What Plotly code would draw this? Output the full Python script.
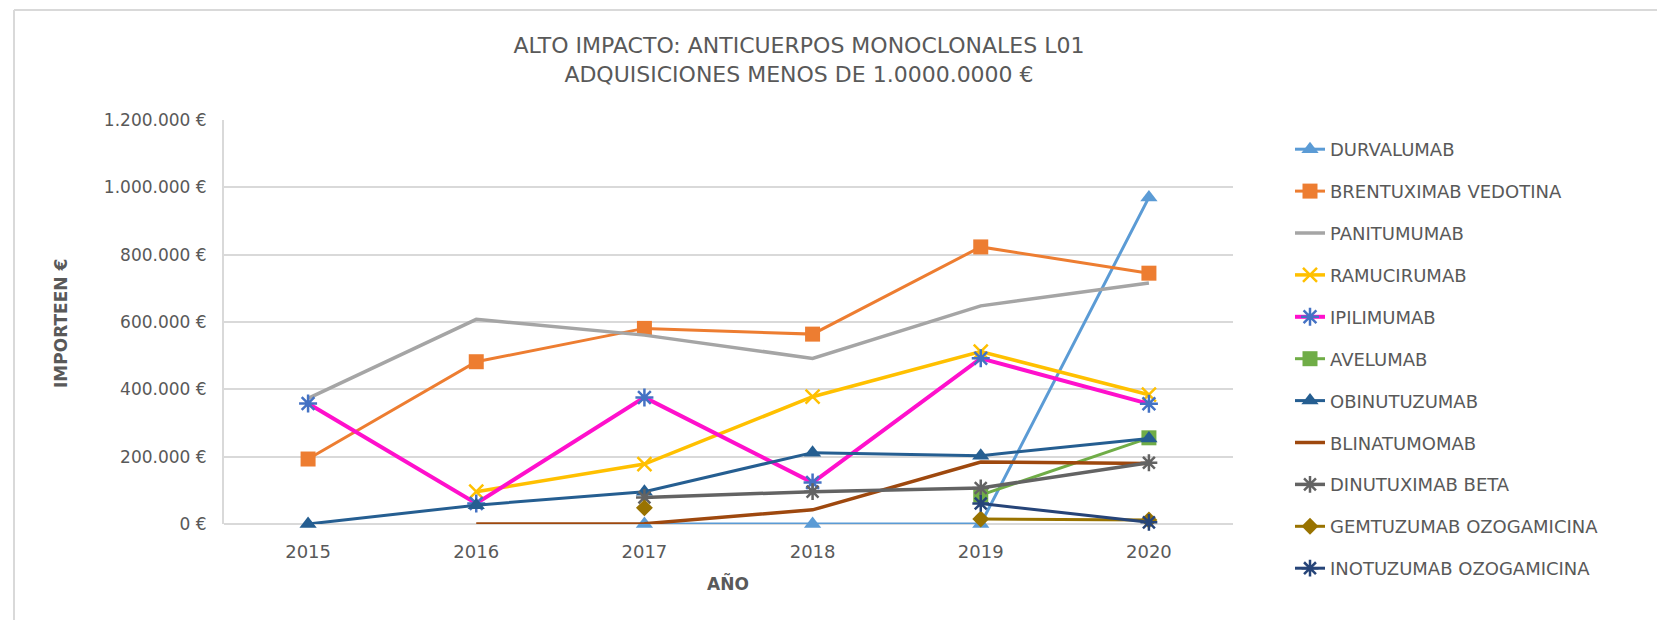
import plotly.graph_objects as go

years = ["2015", "2016", "2017", "2018", "2019", "2020"]

durvalumab = [None, None, 0, 0, 0, 970000]
brentuximab = [193000, 482000, 581000, 564000, 823000, 745000]
panitumumab = [373000, 608000, 561000, 492000, 648000, 716000]
ramucirumab = [None, 96000, 178000, 378000, 512000, 384000]
ipilimumab = [358000, 61000, 376000, 123000, 492000, 357000]
avelumab = [None, None, None, None, 86000, 256000]
obinutuzumab = [0, 56000, 96000, 212000, 203000, 254000]
blinatumomab = [None, 0, 1000, 42000, 184000, 180000]
dinutuximab = [None, None, 79000, 96000, 107000, 182000]
gemtuzumab = [None, None, 48000, None, 15000, 12000]
inotuzumab = [None, None, None, None, 61000, 5000]

series_names = ["DURVALUMAB", "BRENTUXIMAB VEDOTINA", "PANITUMUMAB", "RAMUCIRUMAB",
                "IPILIMUMAB", "AVELUMAB", "OBINUTUZUMAB", "BLINATUMOMAB",
                "DINUTUXIMAB BETA", "GEMTUZUMAB OZOGAMICINA", "INOTUZUMAB OZOGAMICINA"]
series_values = [durvalumab, brentuximab, panitumumab, ramucirumab, ipilimumab, avelumab,
                 obinutuzumab, blinatumomab, dinutuximab, gemtuzumab, inotuzumab]

y_ticks = [0, 200000, 400000, 600000, 800000, 1000000, 1200000]
y_ticktext = [f"{v:,}".replace(",", ".") + " €" for v in y_ticks]

# style: line color, line width, marker symbol, marker color, marker size
styles = [
    ("#5B9BD5", 3, "triangle-up", "#5B9BD5", 15),
    ("#ED7D31", 3, "square", "#ED7D31", 15),
    ("#A5A5A5", 3.5, None, None, 0),
    ("#FFC000", 3.5, "x-thin-open", "#FFC000", 14),
    ("#FF10CC", 4, "asterisk-open", "#4472C4", 15),
    ("#70AD47", 3, "square", "#70AD47", 15),
    ("#255E91", 3, "triangle-up", "#255E91", 15),
    ("#9E480E", 3.5, None, None, 0),
    ("#636363", 3.5, "asterisk-open", "#636363", 14),
    ("#997300", 3, "diamond", "#997300", 13),
    ("#264478", 3, "asterisk-open", "#264478", 14),
]

fig = go.Figure()
for i, (name, vals) in enumerate(zip(series_names, series_values)):
    lc, lw, sym, mc, ms = styles[i]
    kw = dict(x=years, y=vals, name=name, legendgroup=name, cliponaxis=False,
              connectgaps=False, line=dict(color=lc, width=lw))
    if sym:
        if "open" in sym:
            kw["marker"] = dict(symbol=sym, size=ms, color=mc, line=dict(color=mc, width=2.5))
        else:
            kw["marker"] = dict(symbol=sym, size=ms, color=mc, line=dict(width=0))
        kw["mode"] = "lines+markers"
    else:
        kw["mode"] = "lines"
    fig.add_trace(go.Scatter(**kw))

W, H = 1657, 620
L, R, T, B = 224, 1233, 120, 524
pw, ph = R - L, B - T

def px_x(x):
    return (x - L) / pw

def px_y(y):
    return (B - y) / ph

fig.update_layout(
    width=W, height=H,
    margin=dict(l=L, r=W - R, t=T, b=H - B, autoexpand=False),
    paper_bgcolor="white", plot_bgcolor="white",
    font=dict(family="DejaVu Sans", color="#595959"),
    title=dict(
        text="ALTO IMPACTO: ANTICUERPOS MONOCLONALES L01<br>ADQUISICIONES MENOS DE 1.0000.0000 €",
        x=799 / W, xref="container", xanchor="center",
        y=1 - 53 / H, yref="container", yanchor="middle",
        font=dict(family="DejaVu Sans", size=22, color="#595959"),
    ),
    xaxis=dict(
        type="category", range=[-0.5, 5.5], showgrid=False, zeroline=False,
        showline=False, ticks="", ticklabelstandoff=15,
        tickfont=dict(family="DejaVu Sans", size=18, color="#595959"),
    ),
    yaxis=dict(
        range=[0, 1200000], tickvals=y_ticks, ticktext=y_ticktext,
        showgrid=True, gridcolor="#D9D9D9", gridwidth=2,
        zeroline=True, zerolinecolor="#D9D9D9", zerolinewidth=2,
        showline=True, linecolor="#D9D9D9", linewidth=2, ticks="",
        ticklabelstandoff=12,
        tickfont=dict(family="DejaVu Sans", size=17, color="#595959"),
    ),
    legend=dict(
        x=px_x(1290), y=px_y(131), xanchor="left", yanchor="top",
        font=dict(family="DejaVu Sans", size=18, color="#595959"),
        tracegroupgap=15.5, bgcolor="rgba(0,0,0,0)", itemwidth=30,
        maxheight=600,
    ),
    annotations=[
        dict(text="<b>IMPORTEEN €</b>", x=px_x(61), y=px_y(324), xref="paper", yref="paper",
             showarrow=False, textangle=-90, xanchor="center", yanchor="middle",
             font=dict(family="DejaVu Sans", size=17, color="#595959")),
        dict(text="<b>AÑO</b>", x=px_x(728), y=px_y(583), xref="paper", yref="paper",
             showarrow=False, xanchor="center", yanchor="middle",
             font=dict(family="DejaVu Sans", size=17, color="#595959")),
    ],
    shapes=[
        dict(type="line", xref="paper", yref="paper", x0=px_x(14), x1=px_x(1657),
             y0=px_y(10), y1=px_y(10), line=dict(color="#D9D9D9", width=2)),
        dict(type="line", xref="paper", yref="paper", x0=px_x(14), x1=px_x(14),
             y0=px_y(10), y1=px_y(620), line=dict(color="#D9D9D9", width=2)),
    ],
)

fig.write_html("out.html", config={"displayModeBar": False},
               post_script="document.body.style.margin='0px';")
